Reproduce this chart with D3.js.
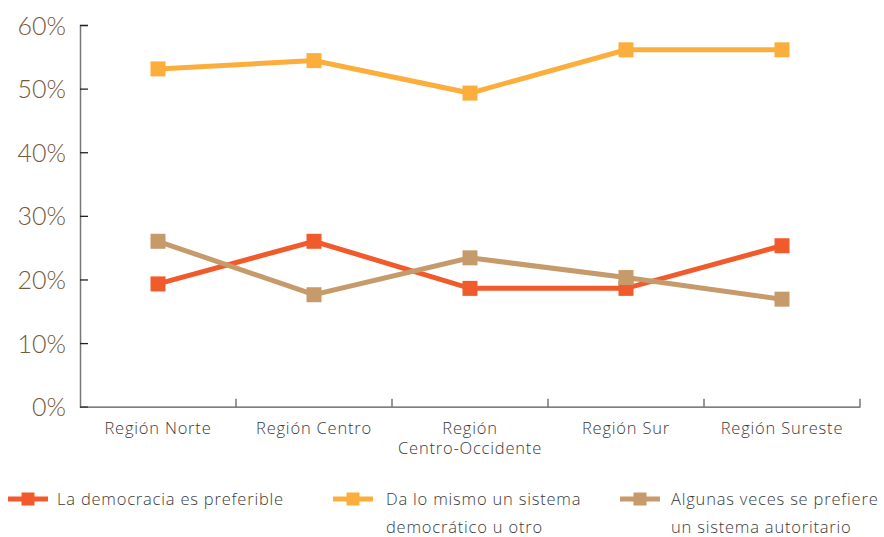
<!DOCTYPE html>
<html><head><meta charset="utf-8">
<script src="https://cdn.jsdelivr.net/npm/d3@7"></script>
<style>body{margin:0;background:#fff}</style>
</head><body>
<svg id="c" width="884" height="537"></svg>
<script>
const categories = [["Región Norte"],["Región Centro"],["Región","Centro-Occidente"],["Región Sur"],["Región Sureste"]];
const seriesNames = [["La democracia es preferible"],["Da lo mismo un sistema","democrático u otro"],["Algunas veces se prefiere","un sistema autoritario"]];
const democracia = [19.3, 26.0, 18.6, 18.6, 25.3];
const daLoMismo = [53.1, 54.4, 49.3, 56.1, 56.1];
const autoritario = [26.0, 17.6, 23.4, 20.3, 16.9];
const yTicks = [0,10,20,30,40,50,60];
const colors = ["#f15a2b","#fbae3c","#c69a6a"];
const series = [democracia, daLoMismo, autoritario];

const svg = d3.select("#c");
const m = {l:80, r:24, t:25, b:131};
const W = 884, H = 537;
const x = d3.scaleBand().domain(d3.range(categories.length)).range([m.l, W-m.r]);
const y = d3.scaleLinear().domain([0,60]).range([H-m.b+0.7, m.t]);

// y axis
const ya = svg.append("g").attr("transform",`translate(${m.l},0)`)
  .call(d3.axisRight(y).tickValues(yTicks).tickSize(8).tickFormat(d=>d+"%"));
ya.select(".domain").attr("stroke","#777").attr("stroke-width",1.5);
ya.selectAll(".tick line").attr("stroke","#222").attr("stroke-width",1.3);
ya.selectAll(".tick text").attr("x",-14).attr("text-anchor","end")
  .attr("font-family","Lato").attr("font-weight",300).attr("font-size",25).attr("fill","#76583b").attr("dy","0.36em");

// x axis
const xa = svg.append("g").attr("transform",`translate(0,${y(0)})`)
  .call(d3.axisTop(x).tickValues([]).tickSizeOuter(0));
xa.select(".domain").attr("stroke","#555").attr("stroke-width",1.3);
const bounds = d3.range(1, categories.length+1).map(i => m.l + i*x.bandwidth());
svg.append("g").selectAll("line").data(bounds).join("line")
  .attr("x1",d=>d).attr("x2",d=>d).attr("y1",y(0)).attr("y2",y(0)-8)
  .attr("stroke","#555").attr("stroke-width",1.2);
svg.append("g").selectAll("text").data(categories).join("text")
  .attr("x",(d,i)=>x(i)+x.bandwidth()/2).attr("y",y(0)+27)
  .attr("text-anchor","middle").attr("font-family","Open Sans").attr("font-weight",300)
  .attr("font-size",16.5).attr("letter-spacing",0.8).attr("fill","#3a3a3a")
  .each(function(d){
    d3.select(this).selectAll("tspan").data(d).join("tspan")
      .attr("x",d3.select(this).attr("x")).attr("dy",(t,j)=>j?20:0).text(t=>t);
  });

// lines
const line = d3.line().x((d,i)=>x(i)+x.bandwidth()/2).y(d=>y(d));
series.forEach((s,k)=>{
  svg.append("path").datum(s).attr("d",line).attr("fill","none")
    .attr("stroke",colors[k]).attr("stroke-width",5);
  svg.append("g").selectAll("rect").data(s).join("rect")
    .attr("x",(d,i)=>x(i)+x.bandwidth()/2-7.5).attr("y",d=>y(d)-7.5)
    .attr("width",15).attr("height",15).attr("fill",colors[k]);
});

// legend
const lx = [8, 333, 620];
const tx = [57, 386, 671];
seriesNames.forEach((n,k)=>{
  const g = svg.append("g");
  g.append("line").attr("x1",lx[k]).attr("x2",lx[k]+40).attr("y1",499).attr("y2",499)
    .attr("stroke",colors[k]).attr("stroke-width",5);
  g.append("rect").attr("x",lx[k]+20-6.5).attr("y",499-6.5).attr("width",13).attr("height",13).attr("fill",colors[k]);
  const t = g.append("text").attr("x",tx[k]).attr("y",505)
    .attr("font-family","Open Sans").attr("font-weight",300).attr("font-size",16.5)
    .attr("letter-spacing",0.8).attr("fill","#3a3a3a");
  t.selectAll("tspan").data(n).join("tspan").attr("x",tx[k]).attr("dy",(d,j)=>j?28:0).text(d=>d);
});
</script>
</body></html>
